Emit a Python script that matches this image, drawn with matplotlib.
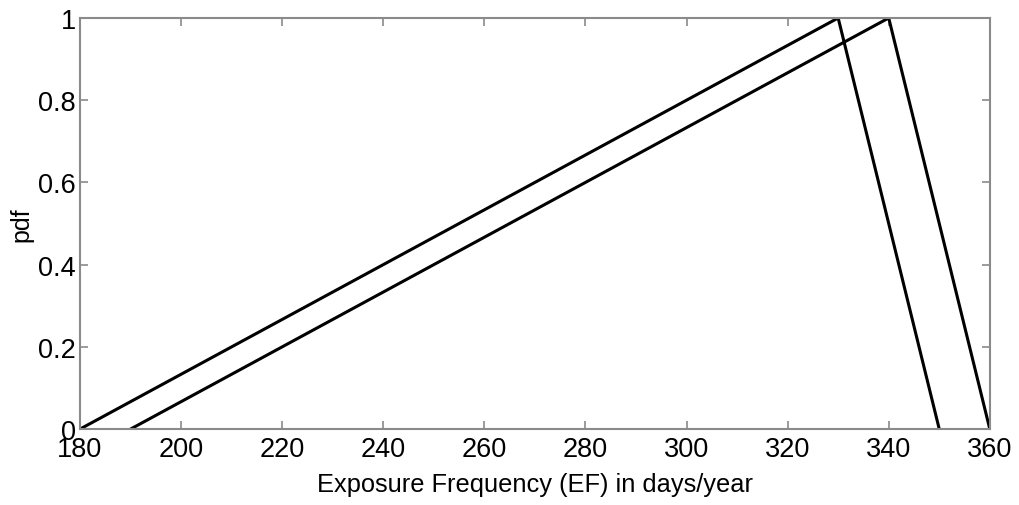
import matplotlib
matplotlib.use("Agg")
import matplotlib.pyplot as plt

# two triangular pdfs for EF (min, mode, max)
ef_a = [180, 330, 350]
pdf_a = [0, 1, 0]
ef_b = [190, 340, 360]
pdf_b = [0, 1, 0]

xticks = [180, 200, 220, 240, 260, 280, 300, 320, 340, 360]
yticks = [0, 0.2, 0.4, 0.6, 0.8, 1]
yticklabels = ["0", "0.2", "0.4", "0.6", "0.8", "1"]

plt.rcParams["font.family"] = ["Liberation Sans", "DejaVu Sans"]

fig = plt.figure(figsize=(10.2, 5.06), dpi=100)
ax = fig.add_axes([0.0784, 0.150, 0.892, 0.8125])

ax.plot(ef_a, pdf_a, color="black", lw=2.2, solid_joinstyle="miter")
ax.plot(ef_b, pdf_b, color="black", lw=2.2, solid_joinstyle="miter")

ax.set_xlim(180, 360)
ax.set_ylim(0, 1)
ax.set_xticks(xticks)
ax.set_yticks(yticks)
ax.set_yticklabels(yticklabels)

for s in ax.spines.values():
    s.set_color("#8a8a8a")
    s.set_linewidth(1.5)
ax.tick_params(direction="in", length=6, width=1.2, color="#8a8a8a",
               top=True, right=True, labelsize=19.5)
ax.tick_params(axis="x", pad=5)
ax.tick_params(axis="y", pad=3)

ax.set_xlabel("Exposure Frequency (EF) in days/year", fontsize=18.3, labelpad=7)
ax.set_ylabel("pdf", fontsize=18, labelpad=3)

fig.savefig("out.png", dpi=100)
